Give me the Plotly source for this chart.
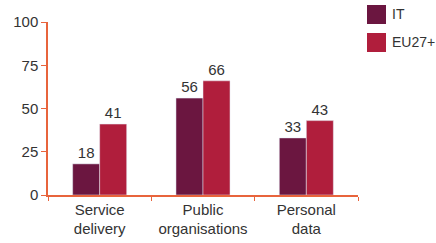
import plotly.graph_objects as go

categories = ["Service<br>delivery", "Public<br>organisations", "Personal<br>data"]
series_names = ["IT", "EU27+"]
it_values = [18, 56, 33]
eu_values = [41, 66, 43]
colors = ["#6B1640", "#B01E3C"]
y_ticks = [0, 25, 50, 75, 100]

FONT = "Liberation Sans Narrow, Arial Narrow, Liberation Sans, Arial, sans-serif"
AXIS = "#E8643C"
TEXT = "#333333"

fig = go.Figure()
for name, vals, col in zip(series_names, [it_values, eu_values], colors):
    fig.add_trace(go.Bar(
        x=categories, y=vals, name=name, marker_color=col,
        text=[str(v) for v in vals], textposition="outside",
        textfont=dict(family=FONT, size=15, color=TEXT),
        cliponaxis=False, showlegend=False,
    ))

# legend drawn as squares + text
for i, (name, col) in enumerate(zip(series_names, colors)):
    top = 5 + i * 28
    fig.add_shape(type="rect", xref="paper", yref="paper",
                  x0=(367 - 48) / 310, x1=(386 - 48) / 310,
                  y0=(195 - top) / 173, y1=(195 - top - 19) / 173,
                  fillcolor=col, line_width=0, layer="above")
    fig.add_annotation(xref="paper", yref="paper", x=(390 - 48) / 310,
                       y=(195 - top - 9.5) / 173, text=name, showarrow=False,
                       xanchor="left", yanchor="middle",
                       font=dict(family=FONT, size=14, color=TEXT))

fig.update_layout(
    width=436, height=243,
    margin=dict(l=48, r=78, t=22, b=48),
    plot_bgcolor="white", paper_bgcolor="white",
    barmode="group", bargap=0.477, bargroupgap=0,
    font=dict(family=FONT, size=14, color=TEXT),
    showlegend=False,
)
fig.update_xaxes(
    showline=True, linecolor=AXIS, linewidth=1.5,
    ticks="outside", tickson="boundaries", ticklen=4, tickcolor=AXIS,
    tickfont=dict(family=FONT, size=15, color=TEXT),
    tickangle=0, automargin=False,
    showgrid=False,
)
fig.update_yaxes(
    range=[0, 100], tickvals=y_ticks,
    showline=True, linecolor=AXIS, linewidth=1.5,
    ticks="outside", ticklen=5, tickcolor=AXIS,
    tickfont=dict(family=FONT, size=15, color=TEXT),
    automargin=False,
    showgrid=False, zeroline=False,
)

fig.write_html("out.html", config={"displayModeBar": False},
               post_script="document.body.style.margin='0';")
